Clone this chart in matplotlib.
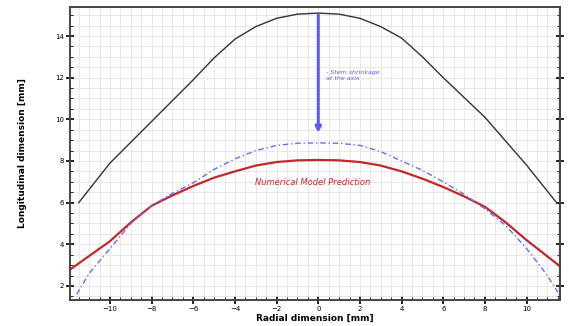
import numpy as np
import matplotlib.pyplot as plt
from matplotlib.ticker import MultipleLocator

# 读图估计的数据
x_black = [-11.5, -10, -8, -6, -5, -4, -3, -2, -1, 0, 1, 2, 3, 4, 5, 6, 8, 10, 11.4]
y_black = [6.0, 7.9, 9.9, 11.9, 12.95, 13.85, 14.45, 14.85, 15.05, 15.1, 15.05, 14.85, 14.45, 13.9, 13.0, 12.0, 10.1, 7.8, 6.05]

x_red = [-11.9, -10, -9, -8, -7, -6, -5, -4, -3, -2, -1, 0, 1, 2, 3, 4, 5, 6, 7, 8, 9, 10, 11.6]
y_red = [2.8, 4.15, 5.05, 5.85, 6.35, 6.8, 7.2, 7.5, 7.78, 7.95, 8.03, 8.05, 8.03, 7.95, 7.78, 7.5, 7.15, 6.75, 6.3, 5.8, 5.05, 4.2, 2.95]

x_blue = [-11.6, -11, -10, -9, -8, -7, -6, -5, -4, -3, -2, -1, 0, 1, 2, 3, 4, 5, 6, 7, 8, 9, 10, 11, 11.5]
y_blue = [1.6, 2.6, 3.8, 5.0, 5.85, 6.45, 6.95, 7.6, 8.1, 8.5, 8.75, 8.85, 8.87, 8.85, 8.75, 8.45, 8.0, 7.55, 7.0, 6.4, 5.7, 4.9, 3.8, 2.5, 1.7]

arrow_x = 0
arrow_top = 15.0
arrow_bottom = 9.35

fig = plt.figure(figsize=(5.69, 3.26), dpi=100)
ax = fig.add_axes([0.123, 0.08, 0.861, 0.899])

ax.plot(x_black, y_black, color='#333333', lw=1.0)
ax.plot(x_red, y_red, color='#c0282b', lw=1.6)
ax.plot(x_blue, y_blue, color='#6a6aff', lw=1.0, linestyle=(0, (4, 2, 1, 2)))

# 箭头和注释
ax.annotate('', xy=(arrow_x, arrow_bottom), xytext=(arrow_x, arrow_top),
            arrowprops=dict(arrowstyle='-|>', color='#5a5aff', lw=2.2,
                            mutation_scale=8, shrinkA=0, shrinkB=0))
ax.text(0.35, 12.1, '- Stem shrinkage\nat the axis', color='#5a5aff',
        fontsize=4.5, style='italic', va='center', ha='left', linespacing=1.4)
ax.text(-0.25, 6.95, 'Numerical Model Prediction', color='#c0282b',
        fontsize=6, style='italic', va='center', ha='center')

ax.set_xlim(-11.92, 11.6)
ax.set_ylim(1.33, 15.4)
ax.xaxis.set_major_locator(MultipleLocator(2))
ax.xaxis.set_minor_locator(MultipleLocator(0.5))
ax.yaxis.set_major_locator(MultipleLocator(2))
ax.yaxis.set_minor_locator(MultipleLocator(0.5))
ax.grid(True, which='both', color='#e4e4e4', lw=0.6)
ax.set_axisbelow(True)

ax.tick_params(which='major', direction='inout', length=6, width=1.2,
               labelsize=5, pad=1.5, right=True)
ax.tick_params(which='minor', direction='in', length=2.5, width=0.6, right=True)
for s in ax.spines.values():
    s.set_linewidth(1.4)
    s.set_color('#444444')

ax.set_xlabel('Radial dimension [mm]', fontsize=6.5, fontweight='bold', labelpad=1)
ax.set_ylabel('Longitudinal dimension [mm]', fontsize=6.5, fontweight='bold', labelpad=20)

plt.savefig('out.png', dpi=100)
